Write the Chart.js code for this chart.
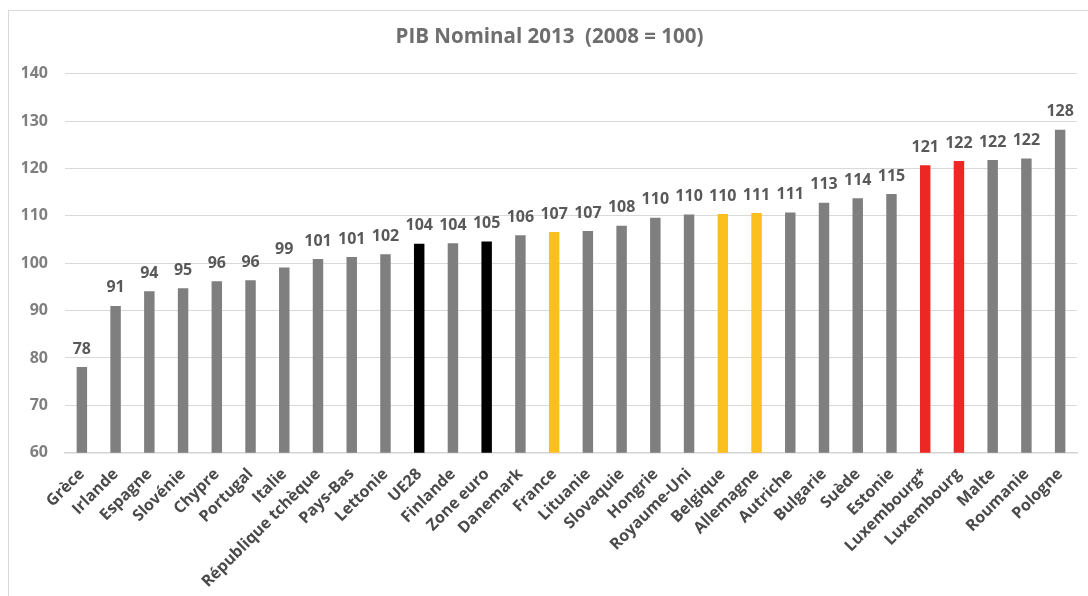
<!DOCTYPE html>
<html>
<head>
<meta charset="utf-8">
<script src="https://cdn.jsdelivr.net/npm/chart.js@4"></script>
<style>
  html, body { margin: 0; padding: 0; background: #fff; }
  #frame { position: absolute; left: 8px; top: 10px; width: 1100px; height: 600px; border: 1px solid #d9d9d9; }
  #wrap { position: absolute; left: 0; top: 0; width: 1088px; height: 596px; }
</style>
</head>
<body>
<div id="frame"></div>
<div id="wrap"><canvas id="pib"></canvas></div>
<script>
// ---------------- Data ----------------
const categories = ['Grèce','Irlande','Espagne','Slovénie','Chypre','Portugal','Italie','République tchèque',
  'Pays-Bas','Lettonie','UE28','Finlande','Zone euro','Danemark','France','Lituanie','Slovaquie','Hongrie',
  'Royaume-Uni','Belgique','Allemagne','Autriche','Bulgarie','Suède','Estonie','Luxembourg*','Luxembourg',
  'Malte','Roumanie','Pologne'];
const values = [78.1, 91.0, 94.1, 94.7, 96.2, 96.4, 99.1, 100.9, 101.3, 101.9, 104.1, 104.2, 104.6, 105.9,
  106.6, 106.8, 107.9, 109.6, 110.3, 110.4, 110.6, 110.7, 112.8, 113.7, 114.6, 120.7, 121.6, 121.8, 122.1, 128.2];
const aggregates = ['UE28', 'Zone euro'];
const neighbours = ['France', 'Belgique', 'Allemagne'];
const luxembourg = ['Luxembourg*', 'Luxembourg'];
const yTicks = [60, 70, 80, 90, 100, 110, 120, 130, 140];

const FONT = "'Open Sans', sans-serif";

function barColor(name){
  if (aggregates.includes(name)) return '#000000';
  if (neighbours.includes(name)) return '#fcc01e';
  if (luxembourg.includes(name)) return '#ed2724';
  return '#7f7f7f';
}

// value labels above bars
const valueLabels = {
  id: 'valueLabels',
  afterDatasetsDraw(chart){
    const ctx = chart.ctx;
    const meta = chart.getDatasetMeta(0);
    ctx.save();
    ctx.font = `bold 16px ${FONT}`;
    ctx.fillStyle = '#595959';
    ctx.textAlign = 'center';
    ctx.textBaseline = 'middle';
    meta.data.forEach((bar, i) => {
      ctx.fillText(String(Math.round(values[i])), bar.x, bar.y - 18);
    });
    ctx.restore();
  }
};

new Chart(document.getElementById('pib'), {
  type: 'bar',
  data: {
    labels: categories,
    datasets: [{
      data: values,
      backgroundColor: categories.map(barColor),
      barPercentage: 0.31,
      categoryPercentage: 1.0
    }]
  },
  options: {
    responsive: true,
    maintainAspectRatio: false,
    animation: false,
    layout: { padding: { left: 22, right: 11, top: 0, bottom: 0 } },
    plugins: {
      legend: { display: false },
      tooltip: { enabled: false },
      title: {
        display: true,
        text: 'PIB Nominal 2013  (2008 = 100)',
        color: '#6e6e6e',
        font: { family: FONT, size: 20.5, weight: 'bold' },
        padding: { top: 25, bottom: 24.2 }
      }
    },
    scales: {
      x: {
        grid: { display: false, drawTicks: false },
        border: { display: true, color: '#d4d4d4', width: 1.5 },
        ticks: {
          autoSkip: false, minRotation: 45, maxRotation: 45, padding: 12,
          color: '#4a4a4a',
          font: { family: FONT, size: 16, weight: 'bold' }
        },
        afterFit: s => { s.height = 143.3; }
      },
      y: {
        min: yTicks[0], max: yTicks[yTicks.length - 1],
        afterBuildTicks: s => { s.ticks = yTicks.map(v => ({ value: v })); },
        grid: { color: '#d9d9d9', drawTicks: false },
        border: { display: false },
        ticks: {
          padding: 17, color: '#7f7f7f',
          font: { family: FONT, size: 16, weight: 'bold' }
        },
        afterFit: s => { s.width = 43; }
      }
    }
  },
  plugins: [valueLabels]
});
</script>
</body>
</html>
